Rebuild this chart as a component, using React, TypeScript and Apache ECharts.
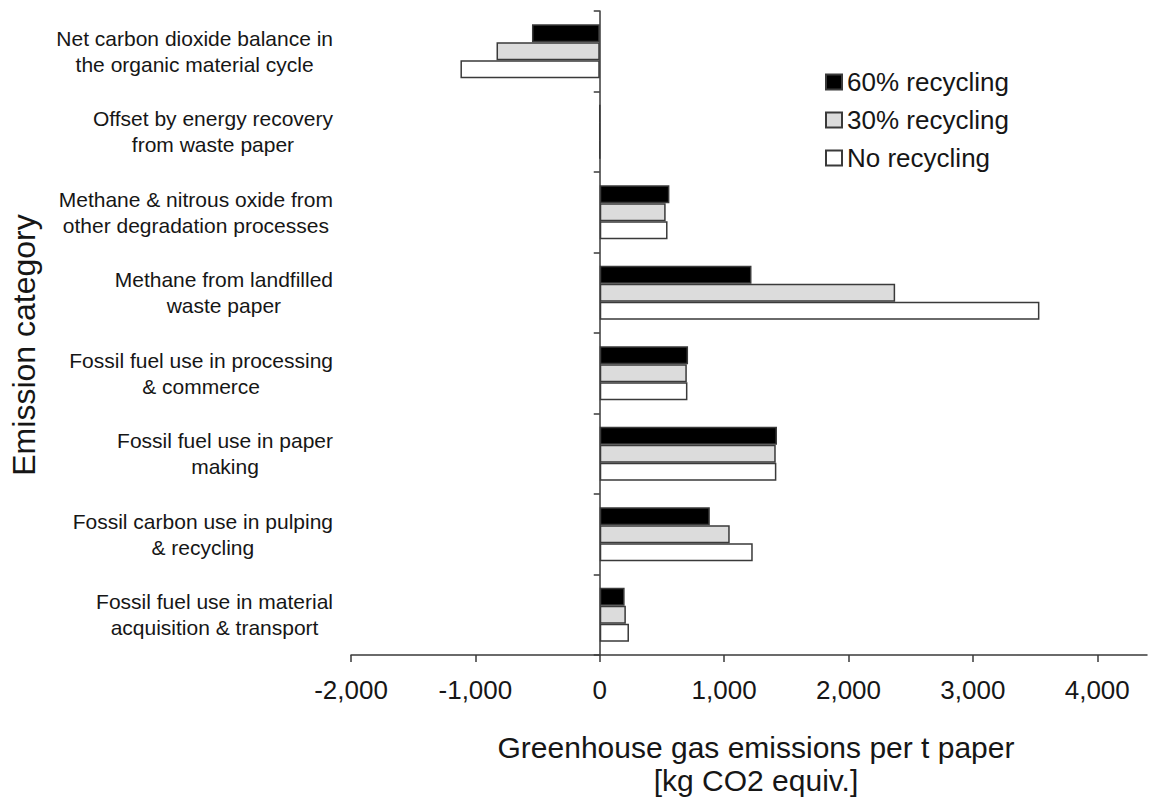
import React, { useEffect, useRef } from "react";
import * as echarts from "echarts";

const categories = [
  "Net carbon dioxide balance in\nthe organic material cycle",
  "Offset by energy recovery\nfrom waste paper",
  "Methane & nitrous oxide from\nother degradation processes",
  "Methane from landfilled\nwaste paper",
  "Fossil fuel use in processing\n& commerce",
  "Fossil fuel use in paper\nmaking",
  "Fossil carbon use in pulping\n& recycling",
  "Fossil fuel use in material\nacquisition & transport",
];

const seriesNames = ["60% recycling", "30% recycling", "No recycling"];
const recycling60 = [-545, 0, 560, 1220, 710, 1425, 885, 200];
const recycling30 = [-830, 0, 530, 2375, 700, 1415, 1045, 210];
const noRecycling = [-1120, 0, 545, 3535, 705, 1420, 1230, 235];
const xTicks = [-2000, -1000, 0, 1000, 2000, 3000, 4000];

const xTitle1 = "Greenhouse gas emissions per t paper";
const xTitle2 = "[kg CO2 equiv.]";
const yTitle = "Emission category";

const FONT = '"Liberation Sans", Arial, Helvetica, sans-serif';
const TEXT = "#161616";
const LINE = "#3a3a3a";

function fmt(v: number): string {
  const s = Math.abs(v).toString().replace(/\B(?=(\d{3})+(?!\d))/g, ",");
  return (v < 0 ? "-" : "") + s;
}

export default function App() {
  const ref = useRef<HTMLDivElement>(null);
  useEffect(() => {
    if (!ref.current) return;
    const chart = echarts.init(ref.current, undefined, { renderer: "svg" });
    const fills = ["#000000", "#dcdcdc", "#ffffff"];
    const values = [recycling60, recycling30, noRecycling];
    chart.setOption({
      animation: false,
      backgroundColor: "#ffffff",
      textStyle: { fontFamily: FONT },
      grid: { left: 351, right: 4, top: 11, bottom: 143, containLabel: false, outerBoundsMode: "none" },
      legend: {
        orient: "vertical",
        left: 825,
        top: 69,
        padding: 0,
        itemWidth: 16,
        itemHeight: 15,
        itemGap: 12,
        icon: "rect",
        textStyle: { fontSize: 26, color: TEXT, fontFamily: FONT },
        data: seriesNames,
      },
      xAxis: {
        type: "value",
        min: -2000,
        max: 4400,
        interval: 1000,
        splitLine: { show: false },
        axisLine: { show: true, lineStyle: { color: LINE, width: 1.5 } },
        axisTick: { show: true, length: 7, lineStyle: { color: LINE, width: 1.5 }, customValues: xTicks },
        axisLabel: {
          customValues: xTicks,
          formatter: (v: number) => fmt(v),
          fontSize: 26,
          color: TEXT,
          margin: 22,
          fontFamily: FONT,
        },
      },
      yAxis: {
        type: "category",
        inverse: true,
        data: categories,
        axisLine: { show: true, onZero: true, lineStyle: { color: LINE, width: 1.5 } },
        axisTick: { show: true, length: 6, lineStyle: { color: LINE, width: 1.5 } },
        splitLine: { show: false },
        axisLabel: {
          margin: 18,
          align: "right",
          formatter: (v: string) =>
            v
              .split("\n")
              .map((l) => `{a|${l}}`)
              .join("\n"),
          rich: {
            a: { fontSize: 21, lineHeight: 26, align: "center", color: TEXT, fontFamily: FONT },
          },
        },
      },
      series: seriesNames.map((name, i) => ({
        name,
        type: "bar",
        data: values[i],
        barWidth: 18,
        barGap: "0%",
        itemStyle: { color: fills[i], borderColor: LINE, borderWidth: 1.5 },
      })),
      graphic: [
        {
          type: "text",
          x: 756,
          y: 747,
          style: { text: xTitle1, fontSize: 30, fill: TEXT, align: "center", verticalAlign: "middle", fontFamily: FONT },
        },
        {
          type: "text",
          x: 756,
          y: 780,
          style: { text: xTitle2, fontSize: 30, fill: TEXT, align: "center", verticalAlign: "middle", fontFamily: FONT },
        },
        {
          type: "text",
          x: 24,
          y: 345,
          rotation: Math.PI / 2,
          style: { text: yTitle, fontSize: 32, fill: TEXT, align: "center", verticalAlign: "middle", fontFamily: FONT },
        },
      ],
    });
    return () => chart.dispose();
  }, []);
  return (
    <div
      ref={ref}
      style={{ position: "fixed", left: 0, top: 0, width: 1151, height: 798, background: "#fff" }}
    />
  );
}
